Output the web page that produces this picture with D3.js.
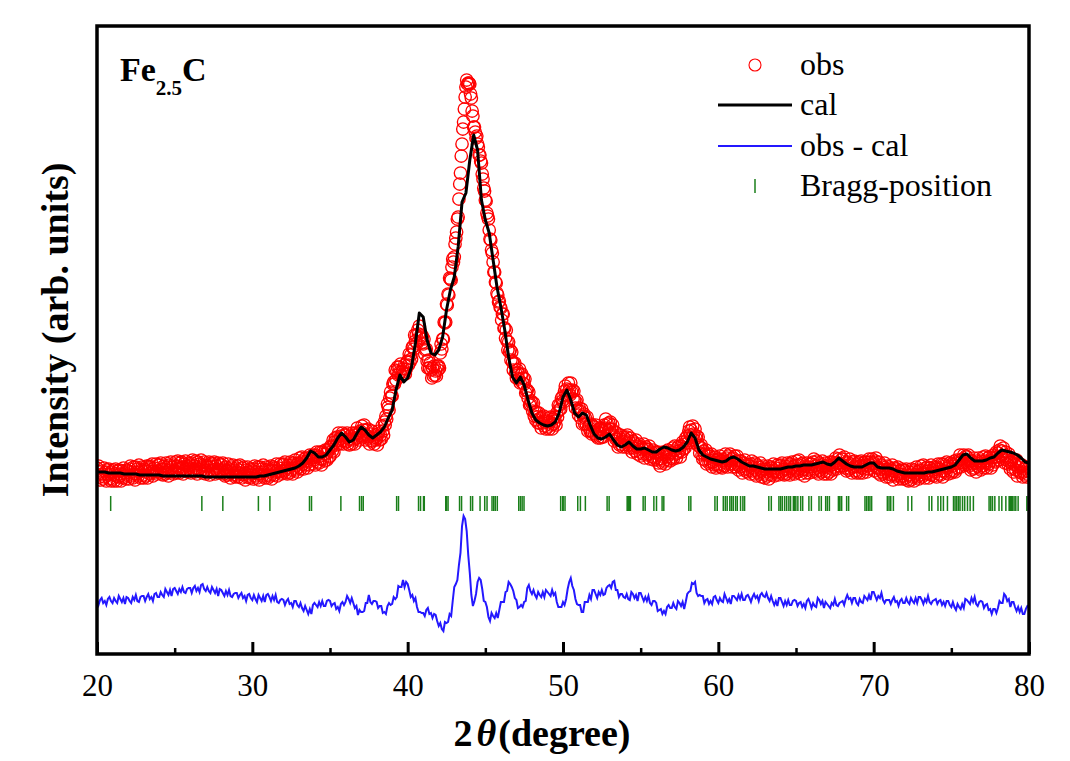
<!DOCTYPE html>
<html><head><meta charset="utf-8">
<script src="https://cdn.jsdelivr.net/npm/d3@7"></script>
<style>body{margin:0;background:#fff}svg{display:block}text{font-family:"Liberation Serif","Times New Roman",serif}</style>
</head><body>
<svg id="chart" width="1070" height="761"></svg>
<script>
// observed intensity, 2θ = 20° .. 80° every 0.05° (one row = 1°)
const obsStart = 20, obsStep = 0.05;
const obs = [
186,179,188,177,182,174,183,180,175,186,177,182,173,184,179,185,175,180,173,182,
175,184,173,180,185,178,173,183,177,184,180,173,183,176,186,178,181,175,184,179,
183,175,185,188,178,182,176,187,180,174,187,180,185,178,189,182,176,184,187,179,
176,185,183,178,188,176,185,188,180,187,182,190,178,183,186,182,190,180,183,189,
189,182,191,180,185,179,188,185,180,191,182,187,178,189,184,192,182,187,180,189,
183,192,181,188,193,186,181,191,185,192,187,180,190,183,193,185,188,182,191,186,
189,181,191,194,184,188,182,193,186,180,192,185,190,183,194,187,181,189,192,184,
180,189,187,182,192,179,188,191,183,190,184,192,180,185,188,183,191,181,184,190,
189,182,191,180,185,178,187,184,179,190,180,185,176,187,182,189,179,184,177,186,
179,188,177,184,189,181,176,186,180,187,181,174,184,177,187,179,182,176,185,180,
183,175,185,188,178,182,176,187,180,174,187,180,185,178,189,182,176,184,187,179,
176,185,183,178,188,175,184,187,179,186,182,190,178,183,186,182,190,180,183,189,
190,183,192,181,186,180,189,186,181,192,184,189,180,191,186,194,184,189,182,191,
187,196,185,192,197,190,185,195,189,196,193,186,196,189,199,193,196,190,199,194,
197,189,199,202,192,197,191,202,195,189,202,195,200,193,204,200,194,202,205,197,
198,208,207,203,214,202,212,216,209,217,213,221,210,215,218,213,221,210,213,219,
219,212,221,210,215,209,218,215,210,221,214,219,210,221,216,226,216,221,214,223,
219,228,217,224,229,219,214,224,218,225,217,210,220,213,223,213,216,210,219,214,
216,209,220,223,214,219,215,228,223,219,232,229,238,235,250,247,244,256,262,258,
258,270,272,270,284,274,283,287,279,287,282,290,278,282,285,280,289,280,285,292,
293,289,300,292,299,295,307,307,305,319,313,319,311,324,320,328,316,319,311,318,
310,315,300,304,305,293,286,294,286,291,284,276,286,278,288,279,283,278,288,284,
288,286,301,310,305,315,315,332,331,332,350,349,360,359,376,375,374,387,395,392,
397,410,416,422,435,437,455,470,481,498,510,525,532,545,557,567,574,570,571,571,
570,560,556,543,538,527,527,522,516,518,510,507,499,499,493,491,480,475,466,463,
454,453,441,438,435,424,415,414,404,401,392,382,382,372,371,361,359,352,353,347,
346,334,340,340,326,326,316,324,313,304,312,302,304,294,302,292,284,290,291,281,
276,284,281,275,285,271,279,280,271,276,270,275,261,263,264,256,262,249,250,253,
251,243,251,238,242,234,242,237,231,241,231,236,226,237,231,238,228,232,225,233,
227,236,225,232,237,229,225,235,230,237,233,229,241,237,249,244,249,245,256,253,
258,252,263,268,259,265,259,271,264,259,271,262,264,255,263,254,246,252,254,244,
239,246,243,236,245,230,238,240,230,236,230,237,223,227,229,223,230,220,222,228,
227,220,229,218,223,216,225,221,216,226,217,224,217,229,226,235,225,230,222,231,
225,232,220,225,229,219,213,222,215,221,215,207,217,209,219,210,213,207,217,212,
215,207,217,219,209,213,206,216,208,202,213,206,211,203,214,207,200,208,210,202,
198,207,205,200,210,196,205,207,199,205,200,208,195,200,202,197,204,194,196,202,
201,194,202,191,195,188,198,195,191,202,193,199,190,202,197,204,194,200,193,202,
196,206,195,203,208,200,196,206,201,208,203,197,208,202,212,205,210,206,216,213,
218,211,223,227,219,224,217,228,220,214,225,216,218,209,217,208,201,207,209,199,
195,203,200,194,204,190,198,200,191,198,192,200,187,192,194,189,197,186,189,195,
195,188,198,187,193,186,195,193,188,200,191,196,187,198,193,200,190,195,187,196,
190,198,187,193,198,189,184,193,187,193,188,181,191,184,194,185,188,182,190,185,
188,180,190,193,183,186,180,191,184,178,189,182,187,180,191,183,177,185,188,180,
176,185,183,178,188,175,184,187,179,186,182,190,178,183,186,181,189,179,182,188,
189,182,191,180,185,179,188,185,180,191,183,188,179,190,185,192,182,187,180,189,
184,193,182,189,194,185,180,190,184,191,185,178,188,181,191,184,187,181,190,185,
190,182,192,195,185,188,182,193,186,180,191,184,189,182,193,186,180,188,191,183,
180,189,187,182,192,180,189,192,184,191,187,196,185,191,195,191,199,188,190,195,
195,188,197,186,191,183,192,189,184,195,185,190,181,192,187,193,183,188,181,190,
183,192,181,188,193,186,181,191,185,192,189,182,192,185,195,189,192,186,195,190,
191,183,193,196,186,187,181,192,185,179,189,182,187,180,191,183,177,185,188,180,
177,186,184,179,189,174,183,186,178,185,179,187,175,180,183,177,185,175,178,184,
183,176,185,174,179,173,182,179,174,185,177,182,173,184,179,187,177,182,175,184,
179,188,177,184,189,181,176,186,180,187,183,176,186,179,189,181,184,178,187,182,
185,177,187,190,180,185,179,190,183,177,190,183,188,181,192,186,180,188,191,183,
181,190,188,183,193,182,191,194,186,193,191,199,187,192,195,191,199,189,192,198,
197,190,199,188,193,184,193,190,185,196,186,191,182,193,188,196,186,191,184,193,
188,197,186,193,198,191,186,196,190,197,193,186,196,189,199,193,197,192,202,197,
201,194,204,208,198,203,196,206,198,191,202,194,198,190,200,192,185,192,194,186,
182,191,189,184,194,178,187,190,182,189,181,189,177,182,185,179,187,177,180,186,
182];
// calculated intensity, every 0.25°
const calStart = 20, calStep = 0.25;
const cal = [
182,182,182,181,181,181,181,180, 180,180,180,179,179,179,179,179,
179,178,178,178,178,178,178,178, 178,178,178,178,177,177,177,177,
177,177,177,177,177,177,177,177, 177,177,178,178,179,180,181,182,
183,184,185,186,188,191,196,203, 201,197,197,199,204,209,216,221,
217,212,214,221,227,224,219,216, 219,222,227,236,244,264,279,272,
276,287,311,341,337,314,301,299, 304,317,344,364,377,407,452,461,
494,519,504,454,434,421,394,367, 347,324,297,277,271,277,269,254,
241,234,231,229,228,229,232,241, 257,264,254,241,237,241,239,229,
220,216,215,217,220,214,209,207, 209,212,208,205,205,206,204,202,
202,205,207,206,204,203,204,207, 212,221,216,204,199,197,195,194,
193,192,193,196,197,195,192,190, 188,188,187,186,185,185,185,185,
185,186,187,187,188,188,189,189, 189,190,191,192,190,189,192,196,
193,190,188,187,187,187,189,191, 191,187,186,186,186,185,183,182,
181,181,181,181,181,181,182,182, 183,184,185,186,187,189,194,199,
200,196,193,193,193,194,196,197, 201,204,203,202,201,199,196,192,
191];
// difference obs - cal, every 0.1°
const diffStart = 20, diffStep = 0.1;
const diff = [
2,-3,2,4,-1,1,-3,3,5,1,  -1,4,1,-1,6,3,0,4,-2,5,  4,1,-1,5,2,7,1,0,5,6,  6,1,5,8,3,5,1,8,9,5,
5,10,7,5,13,10,7,12,6,13,  14,11,8,13,10,15,10,9,13,14,  14,9,14,16,11,14,10,17,18,13,  11,15,11,9,15,12,9,13,6,13,
12,9,6,11,7,12,6,5,8,9,  9,4,7,9,4,6,1,7,8,4,  2,7,3,0,7,4,1,6,0,7,  8,5,1,6,2,7,0,-1,2,3,
2,-3,1,3,-2,-1,-5,1,1,-3,  -5,-1,-6,-9,-4,-8,-12,-7,-12,-3,  -1,-3,-5,0,-4,1,-4,-4,1,2,  1,-4,-2,-1,-7,-5,-9,-2,0,-3,
0,6,3,-1,4,-1,-6,-4,-13,-8,  -10,-10,-9,-1,-1,7,0,-2,1,1,  0,-6,-4,-4,-11,-10,-12,-4,-1,-3,  -2,5,3,5,16,15,15,22,15,20,
18,12,5,7,1,4,-5,-10,-10,-11,  -11,-14,-8,-6,-12,-11,-16,-12,-13,-19,  -24,-21,-27,-29,-20,-21,-20,-12,-14,1,  15,18,22,37,49,76,86,83,71,47,
29,7,-4,1,8,20,24,22,13,1,  0,-5,-15,-19,-11,-14,-16,-11,-16,-8,  0,0,0,10,11,20,18,15,11,4,  2,-6,-5,-3,-5,0,1,14,17,11,
8,12,7,4,10,7,5,10,5,12,  10,8,6,12,7,9,0,-5,-5,-5,  0,-3,3,13,20,24,16,12,3,-2,  -3,-3,-10,-10,0,0,0,7,3,12,
12,8,4,10,7,12,7,8,14,16,  17,14,20,21,12,12,5,8,8,5,  4,8,3,2,10,8,4,7,1,9,  9,5,1,5,1,6,-1,-3,1,1,
-1,-9,-8,-7,-12,-9,-12,-5,-3,-6,  -6,-1,-5,-7,1,-1,-4,0,-7,0,  8,10,11,19,18,20,9,6,7,6,  6,-1,2,3,-2,1,-2,5,6,2,
-1,4,1,0,8,4,0,3,-2,6,  6,4,2,7,3,8,2,2,6,7,  4,0,5,8,4,6,1,7,9,6,  5,9,4,1,6,1,-3,1,-4,4,
4,0,-4,1,-3,2,-3,-3,1,2,  1,-4,-1,0,-5,-2,-6,1,3,-1,  -6,-1,-4,-5,4,2,-2,1,-6,0,  -2,-4,-6,-1,-3,3,-3,-4,-1,0,
1,-3,3,7,3,4,-1,4,4,-1,  -3,3,0,-1,6,4,2,7,2,10,  10,6,2,6,4,9,2,-1,2,2,  2,-2,2,5,0,1,-4,1,3,-1,
-1,4,0,-2,4,1,-1,4,-1,5,  5,2,-2,3,0,6,0,-2,1,2,  3,-2,1,2,-3,0,-4,1,1,-3,  -5,0,-5,-8,-2,-5,-7,-2,-6,3,
2,0,-2,4,0,5,-2,-4,0,1,  0,-6,-3,-2,-8,-7,-12,-7,-7,-11,  -6,1,-1,-1,8,6,1,3,-5,0,  0,-5,-9,-5,-10,-6,-12,-12,-7,-4,
-5];
const diffOffset = 52;
// Bragg reflection positions (2θ)
const bragg = [20.88,26.75,28.10,30.39,31.13,33.68,33.81,35.70,36.90,37.03,37.14,39.29,39.41,40.70,40.83,41.02,41.07,
42.45,42.50,42.60,43.34,43.47,44.05,44.18,44.66,44.96,45.11,45.43,45.54,45.64,45.77,47.15,47.26,47.37,47.49,
49.85,49.98,50.01,50.13,50.95,51.12,51.44,52.84,52.97,54.13,54.18,54.23,54.28,54.34,55.16,55.29,55.85,56.02,56.38,56.49,
58.10,58.23,59.78,59.93,60.32,60.45,60.57,60.74,60.85,60.96,61.11,61.22,61.43,61.58,61.69,63.25,63.41,
63.90,64.01,64.12,64.27,64.40,64.54,64.65,64.83,64.87,64.91,64.99,65.12,65.30,65.43,65.83,65.99,66.48,66.63,
66.91,67.02,67.15,67.73,67.78,67.83,67.94,68.26,68.39,69.44,69.55,69.66,69.76,69.87,70.88,70.99,71.10,71.27,
72.21,72.45,73.57,73.74,74.14,74.32,74.49,74.75,75.14,75.24,75.35,75.46,75.56,75.72,75.86,76.04,76.21,76.42,
77.43,77.54,77.65,77.80,78.07,78.25,78.51,78.72,78.76,78.80,78.83,78.87,78.90,78.94,79.04,79.15,79.30,79.86];
const xTicks = [20,30,40,50,60,70,80];
const xMinorTicks = [25,35,45,55,65,75];
const legendItems = ["obs","cal","obs - cal","Bragg-position"];

const svg = d3.select("#chart");
const L = 97, R = 1029, T = 26, B = 654;
const x = d3.scaleLinear().domain([20, 80]).range([L, R]);
const y = d3.scaleLinear().domain([0, 628]).range([B, T]);

svg.append("defs").append("clipPath").attr("id","clip")
  .append("rect").attr("x",L).attr("y",T).attr("width",R-L).attr("height",B-T);
const plot = svg.append("g").attr("clip-path","url(#clip)");

// observed circles
plot.append("g").selectAll("circle").data(obs).join("circle")
  .attr("cx",(d,i)=>x(obsStart + i*obsStep)).attr("cy",d=>y(d)).attr("r",6.2)
  .attr("fill","none").attr("stroke","#ff0000").attr("stroke-width",1.35);

// calculated line
plot.append("path").datum(cal)
  .attr("d", d3.line().x((d,i)=>x(calStart + i*calStep)).y(d=>y(d)))
  .attr("fill","none").attr("stroke","#000").attr("stroke-width",3).attr("stroke-linejoin","round");

// Bragg ticks
plot.append("g").selectAll("line").data(bragg).join("line")
  .attr("x1",d=>x(d)).attr("x2",d=>x(d)).attr("y1",496).attr("y2",511)
  .attr("stroke","#1a7f1a").attr("stroke-width",1.5);

// difference curve
plot.append("path").datum(diff)
  .attr("d", d3.line().x((d,i)=>x(diffStart + i*diffStep)).y(d=>y(d+diffOffset)))
  .attr("fill","none").attr("stroke","#2418ff").attr("stroke-width",2);

// ticks (inward)
const ax = svg.append("g").attr("transform",`translate(0,${B})`)
  .call(d3.axisBottom(x).tickValues(xTicks).tickSize(-12).tickPadding(20).tickFormat(d3.format("d")));
ax.select(".domain").remove();
ax.selectAll(".tick line").attr("stroke","#000").attr("stroke-width",3);
ax.selectAll(".tick text").attr("font-family","Liberation Serif").attr("font-size",31).attr("fill","#000");
const axm = svg.append("g").attr("transform",`translate(0,${B})`)
  .call(d3.axisBottom(x).tickValues(xMinorTicks).tickSize(-6).tickFormat(""));
axm.select(".domain").remove();
axm.selectAll(".tick line").attr("stroke","#000").attr("stroke-width",2.5);

// frame
svg.append("rect").attr("x",L).attr("y",T).attr("width",R-L).attr("height",B-T)
  .attr("fill","none").attr("stroke","#000").attr("stroke-width",3.5);

// axis titles
const xt = svg.append("text").attr("x",542).attr("y",746).attr("text-anchor","middle")
  .attr("font-size",38).attr("font-weight","bold");
xt.append("tspan").text("2");
xt.append("tspan").attr("font-style","italic").attr("dx",4).text("θ");
xt.append("tspan").attr("dx",2).text("(degree)");

svg.append("text").attr("transform","translate(68,330) rotate(-90)").attr("text-anchor","middle")
  .attr("font-size",38).attr("font-weight","bold").text("Intensity (arb. units)");

// sample label
const sl = svg.append("text").attr("x",120).attr("y",81).attr("font-size",34).attr("font-weight","bold");
sl.append("tspan").text("Fe");
sl.append("tspan").attr("font-size",21).attr("dy",14).text("2.5");
sl.append("tspan").attr("dy",-14).text("C");

// legend
const lg = svg.append("g");
const ly = [65,105,146,186];
lg.append("circle").attr("cx",755).attr("cy",ly[0]).attr("r",6).attr("fill","none").attr("stroke","#ff0000").attr("stroke-width",1.1);
lg.append("line").attr("x1",718).attr("x2",792).attr("y1",ly[1]).attr("y2",ly[1]).attr("stroke","#000").attr("stroke-width",3);
lg.append("line").attr("x1",718).attr("x2",792).attr("y1",ly[2]).attr("y2",ly[2]).attr("stroke","#2418ff").attr("stroke-width",2);
lg.append("line").attr("x1",755).attr("x2",755).attr("y1",ly[3]-7).attr("y2",ly[3]+7).attr("stroke","#1a7f1a").attr("stroke-width",1.5);
lg.selectAll("text").data(legendItems).join("text")
  .attr("x",800).attr("y",(d,i)=>ly[i]+10).attr("font-size",32).text(d=>d);
</script>
</body></html>
